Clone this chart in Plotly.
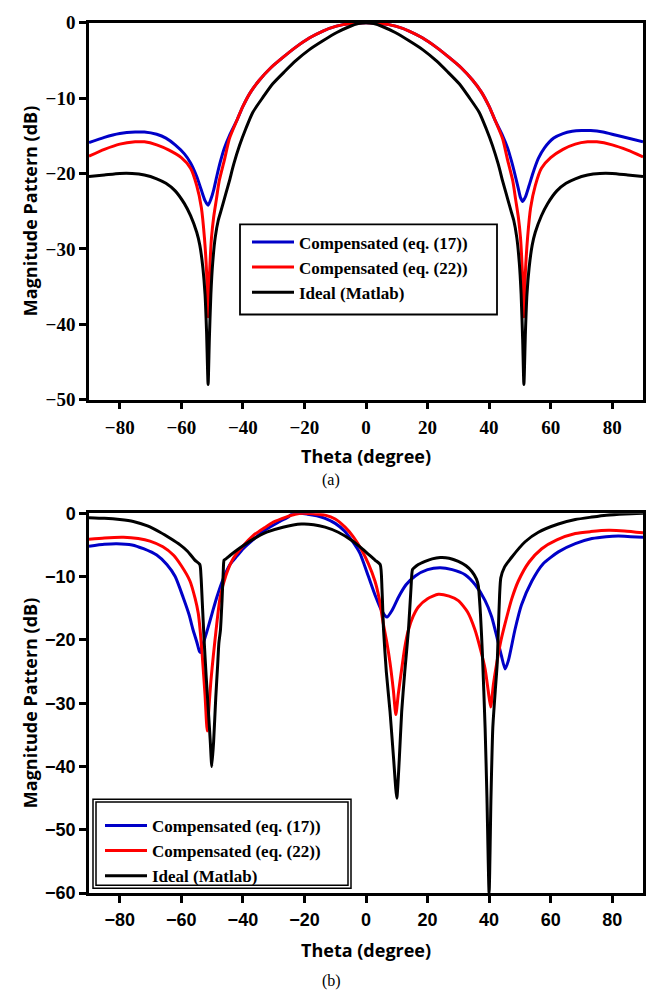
import plotly.graph_objects as go

# ---------------- (a) data ----------------
th_a_blue = [-90, -85, -80, -75, -72, -68, -65, -62, -59, -57, -55, -53.5, -52.3, -51.3, -50.4, -49.5, -48.5, -47.3,
             -46, -44.4, -42, -40, -37.5, -34.6, -31, -27, -23, -18.3, -14, -9.6, -5, 0,
             5, 9.6, 14, 18.3, 23, 27, 31, 34.6, 37.5, 40, 42, 44.4, 46, 47.3, 48.5, 49.5, 50.2, 50.9,
             51.8, 53, 54.2, 56, 58, 61, 64, 67, 70, 73, 77, 81, 85, 90]
db_a_blue = [-15.9, -15.2, -14.7, -14.5, -14.5, -14.8, -15.3, -16.2, -17.4, -18.6, -20.4, -22.2, -23.6, -24.2, -23.4,
             -22.2, -20.4, -18.4, -16.6, -15.0, -13.0, -11.1, -9.2, -7.6, -6.0, -4.6, -3.3, -2.0, -1.1, -0.45, -0.1, 0,
             -0.1, -0.45, -1.1, -2.0, -3.3, -4.6, -6.0, -7.6, -9.2, -11.1, -13.0, -15.0, -16.6, -18.4, -20.3, -22.0,
             -23.2, -23.7, -23.1, -21.6, -20.0, -18.0, -16.6, -15.3, -14.7, -14.4, -14.3, -14.3, -14.5, -14.9,
             -15.3, -15.8]

th_a_red = [-90, -85, -80, -75, -72, -68, -64, -60, -57, -55, -53.5, -52.5, -51.8, -51.3, -50.8, -50.2, -49.5, -48.6,
            -47.7, -46, -44.4, -42, -40, -37.5, -34.6, -31, -27, -23, -18.3, -14, -9.6, -5, 0,
            5, 9.6, 14, 18.3, 23, 27, 31, 34.6, 37.5, 40, 42, 44.4, 46, 47.7, 48.6, 49.5, 50.2, 50.8, 51.3,
            51.8, 52.5, 53.5, 55, 57, 60, 64, 68, 72, 75, 80, 85, 90]
db_a_red = [-17.7, -16.8, -16.1, -15.8, -15.8, -16.2, -16.9, -17.9, -19.3, -21.6, -24.5, -28.5, -33.0, -39.0, -33.0,
            -28.5, -25.8, -23.4, -21.0, -18.2, -15.4, -13.0, -11.1, -9.2, -7.6, -6.0, -4.6, -3.3, -2.0, -1.1, -0.45,
            -0.1, 0,
            -0.1, -0.45, -1.1, -2.0, -3.3, -4.6, -6.0, -7.6, -9.2, -11.1, -13.0, -15.4, -18.2, -21.0, -23.4, -25.8,
            -28.5, -33.0, -39.0, -33.0, -28.5, -24.5, -21.6, -19.3, -17.9, -16.8, -16.1, -15.8, -15.8, -16.2,
            -16.9, -17.8]

th_a_black = [-90, -85, -80, -76, -72, -68, -65, -62, -59, -57, -55, -54, -53, -52.3, -51.8, -51.3, -50.9, -50.4,
              -49.8, -49, -48, -47, -45.5, -44.4, -43, -41.1, -39, -36.8, -33.5, -30.3, -26.5, -22.7, -18.5, -14,
              -9.5, -5.3, -2.5, 0,
              2.5, 5.3, 9.5, 14, 18.5, 22.7, 26.5, 30.3, 33.5, 36.8, 39, 41.1, 43, 44.4, 45.5, 47, 48, 49, 49.8,
              50.4, 50.9, 51.3, 51.8, 52.3, 53, 54, 55, 57, 59, 62, 65, 68, 72, 76, 80, 85, 90]
db_a_black = [-20.4, -20.2, -20.0, -20.0, -20.2, -20.7, -21.3, -22.3, -24.0, -25.6, -27.8, -29.5, -32.5, -36.0, -41.0,
              -48.0, -42.0, -36.0, -31.8, -28.5, -26.2, -24.8, -22.6, -21.0, -18.8, -16.3, -14.0, -11.9, -9.9, -8.1,
              -6.5, -5.0, -3.6, -2.4, -1.3, -0.5, -0.12, 0,
              -0.12, -0.5, -1.3, -2.4, -3.6, -5.0, -6.5, -8.1, -9.9, -11.9, -14.0, -16.3, -18.8, -21.0, -22.6,
              -24.8, -26.2, -28.5, -31.8, -36.0, -42.0, -48.0, -41.0, -36.0, -32.5, -29.5, -27.8, -25.6, -24.0,
              -22.3, -21.3, -20.7, -20.2, -20.0, -20.0, -20.2, -20.4]

# ---------------- (b) data ----------------
th_b_blue = [-90, -85, -81, -76, -72.3, -68, -64.7, -62, -59.4, -57.5, -56.2, -55, -54.2, -53.9, -53.3, -51.7, -50,
             -48.5, -46.5, -44.2, -42, -39.9, -36, -32.3, -28, -25, -23.7, -19, -16, -13.3, -10, -7, -4.6, -2, 0.8,
             3, 5, 6.8, 8.5, 10.5, 13, 16, 20, 24.1, 28, 32.2, 35.5, 38.7, 40.8, 42.5, 44, 45.2, 46.3, 48.4,
             50.5, 53.9, 57.5, 62.5, 68, 73.4, 78, 82, 86, 90]
db_b_blue = [-5.2, -4.9, -4.8, -5.0, -5.6, -6.6, -8.1, -10.0, -13.3, -16.0, -18.4, -20.3, -21.7, -22.0, -21.2, -18.7,
             -15.8, -13.3, -10.5, -8.1, -6.8, -5.6, -3.9, -2.5, -1.3, -0.5, 0, -0.15, -0.4, -0.8, -1.6, -2.8, -4.3,
             -6.3, -10.0, -13.0, -15.3, -16.4, -15.3, -13.3, -11.3, -9.9, -8.9, -8.6, -8.9, -9.7, -11.3, -13.8,
             -16.3, -19.5, -22.5, -24.6, -23.2, -18.4, -14.5, -10.7, -8.0, -6.1, -4.8, -4.0, -3.7, -3.6, -3.7, -3.8]

th_b_red = [-90, -85, -78.8, -74, -70.2, -66, -62.6, -60, -57.2, -55.5, -54.5, -53.9, -53.2, -52.3, -51.6, -51.0,
            -50.4, -49.6, -48.5, -47.4, -45.5, -43.1, -40, -36.6, -33, -30.1, -26, -23, -20.4, -17, -13.3, -10,
            -6.8, -4, -1.4, 0.8, 2.9, 4.3, 5.6, 6.8, 7.8, 8.9, 9.7, 10.5, 11.6, 12.6, 13.8, 15.3, 17, 20, 23.5, 27,
            30, 33, 35.4, 37.2, 38.7, 39.7, 40.5, 41.4, 42.5, 43.8, 45.2, 47.3, 49.5, 53, 57.1, 62, 68, 73, 78.8,
            84, 90]
db_b_red = [-4.1, -3.9, -3.8, -4.0, -4.4, -5.3, -6.6, -8.3, -10.7, -13.5, -15.8, -18.4, -22.5, -28.7, -34.4, -30.5,
            -26.5, -22.5, -17.5, -13.3, -9.8, -7.1, -5.2, -3.5, -2.3, -1.4, -0.6, -0.15, 0, -0.1, -0.3, -0.9,
            -2.2, -3.8, -5.8, -8.0, -10.7, -13.5, -17.4, -20.5, -23.6, -28.0, -31.8, -28.5, -24.6, -21.2, -18.4,
            -16.3, -14.8, -13.5, -12.8, -13.1, -13.8, -15.6, -18.4, -21.5, -24.6, -28.0, -30.6, -27.0, -23.6,
            -20.2, -17.4, -13.6, -10.7, -7.7, -5.6, -4.2, -3.2, -2.9, -2.7, -2.8, -3.1]

th_b_black = [-90, -85, -80, -75.6, -71, -66.9, -63.5, -60.4, -58, -55.6, -54, -53.6, -53.2, -52.6, -51.9, -51.2,
              -50.6, -50.1, -49.5, -48.8, -48.2, -47.8, -47.3, -46.8, -46.4, -46.1, -45.5, -44, -41, -37, -32.3,
              -27, -21, -17, -13.3, -9, -4.6, -1, 2.9, 4.6, 5.2, 5.7, 6.6, 7.8, 9, 10, 10.8, 11.6, 12.6, 13.8,
              14.6, 15.1, 15.7, 17, 19.2, 21.5, 24.1, 27, 30, 32.5, 34.4, 35.9, 36.5, 37.2, 37.8, 38.7, 39.3,
              40, 40.6, 41.2, 42, 42.6, 43, 43.4, 43.8, 45, 47.4, 51.7, 56, 62.5, 68, 73.4, 78, 84.2, 90]
db_b_black = [-0.7, -0.8, -1.0, -1.3, -2.0, -3.0, -4.0, -5.0, -6.0, -7.4, -8.1, -10.0, -14.0, -20.0, -26.0, -31.3,
              -36.0, -40.0, -36.0, -29.0, -24.0, -20.5, -18.5, -14.0, -9.5, -7.4, -7.2, -6.6, -5.5, -4.2, -3.0,
              -2.2, -1.7, -1.8, -2.2, -3.0, -4.3, -5.7, -7.4, -8.1, -12.0, -18.4, -25.0, -31.3, -39.0, -45.0,
              -39.0, -31.3, -25.0, -18.4, -12.0, -8.9, -8.6, -8.1, -7.6, -7.2, -7.0, -7.1, -7.6, -8.3, -9.2, -10.4,
              -11.5, -16.0, -22.0, -33.9, -45.0, -60.0, -45.0, -33.9, -28.0, -24.0, -18.4, -13.0, -10.2, -8.5,
              -6.9, -4.5, -3.0, -1.7, -1.0, -0.6, -0.3, -0.1, 0]

series_names = ["Compensated (eq. (17))", "Compensated (eq. (22))", "Ideal (Matlab)"]
series_colors = ["#0000c8", "#ff0000", "#000000"]

x_ticks = [-80, -60, -40, -20, 0, 20, 40, 60, 80]
y_ticks_a = [0, -10, -20, -30, -40, -50]
y_ticks_b = [0, -10, -20, -30, -40, -50, -60]

fig = go.Figure()

sets_a = [(th_a_blue, db_a_blue), (th_a_red, db_a_red), (th_a_black, db_a_black)]
sets_b = [(th_b_blue, db_b_blue), (th_b_red, db_b_red), (th_b_black, db_b_black)]

for (xs, ys), name, col in zip(sets_a, series_names, series_colors):
    fig.add_trace(go.Scatter(x=xs, y=ys, mode="lines", name=name, xaxis="x", yaxis="y",
                             line=dict(color=col, width=3, shape="spline", smoothing=0.6),
                             legend="legend"))
for (xs, ys), name, col in zip(sets_b, series_names, series_colors):
    fig.add_trace(go.Scatter(x=xs, y=ys, mode="lines", name=name, xaxis="x2", yaxis="y2",
                             line=dict(color=col, width=3, shape="spline", smoothing=0.6),
                             legend="legend2"))

W, H = 650, 1004
xdom = [89 / W, 643 / W]
ydom_a = [1 - 398 / H, 1 - 13 / H]
ydom_b = [1 - 902 / H, 1 - 514 / H]

serif_bold = dict(family="Liberation Serif", size=19, color="black", weight="bold")
sans_bold = dict(family="Liberation Sans", size=18, color="black", weight="bold")

axis_common = dict(showline=True, linecolor="black", linewidth=2.5, mirror=True, showgrid=False,
                   zeroline=False, ticks="outside", ticklen=7, tickwidth=2.5, tickcolor="black")

legend_font = dict(family="Liberation Serif", size=17, color="black", weight="bold")

fig.update_layout(
    width=W, height=H,
    margin=dict(l=0, r=0, t=0, b=0),
    paper_bgcolor="white", plot_bgcolor="white",
    xaxis=dict(domain=xdom, anchor="y", range=[-90, 90], tickvals=x_ticks, tickfont=serif_bold,
               ticklabelstandoff=2, **axis_common),
    yaxis=dict(domain=ydom_a, anchor="x", range=[-50, 0], tickvals=y_ticks_a, tickfont=serif_bold,
               **axis_common),
    xaxis2=dict(domain=xdom, anchor="y2", range=[-90, 90], tickvals=x_ticks, tickfont=sans_bold,
                ticklabelstandoff=2, **axis_common),
    yaxis2=dict(domain=ydom_b, anchor="x2", range=[-60, 0], tickvals=y_ticks_b, tickfont=sans_bold,
                **axis_common),
    legend=dict(x=247 / W, y=1 - 219 / H, xanchor="left", yanchor="top", bgcolor="rgba(0,0,0,0)",
                borderwidth=0, itemwidth=42, font=legend_font),
    legend2=dict(x=100 / W, y=1 - 815 / H, xanchor="left", yanchor="top", bgcolor="rgba(0,0,0,0)",
                 borderwidth=0, itemwidth=42, font=legend_font),
    showlegend=True,
)

# legend frames (single frame for (a), double frame for (b))
frames = [
    (240, 219, 497, 311, 1.8),
    (93, 806, 351, 897, 1.5),
    (96, 809, 348, 894, 1.5),
]
fig.update_layout(shapes=[
    dict(type="rect", xref="paper", yref="paper", x0=x0 / W, x1=x1 / W, y0=1 - y1 / H, y1=1 - y0 / H,
         line=dict(color="black", width=lw), fillcolor="rgba(0,0,0,0)", layer="above")
    for x0, y0, x1, y1, lw in frames
])

title_font = dict(family="Open Sans", size=18, color="black", weight="bold")
ann = []
for yc, xc_title in [((13 + 398) / 2, 456), ((514 + 902) / 2, 960)]:
    ann.append(dict(text="Magnitude Pattern (dB)", x=30 / W, y=1 - yc / H, xref="paper", yref="paper",
                    textangle=-90, showarrow=False, font=title_font, xanchor="center", yanchor="middle"))
    ann.append(dict(text="Theta (degree)", x=366 / W, y=1 - xc_title / H, xref="paper", yref="paper",
                    showarrow=False, font=title_font, xanchor="center", yanchor="middle"))
for txt, yc in [("(a)", 480), ("(b)", 992)]:
    ann.append(dict(text=txt, x=331 / W, y=1 - yc / H, xref="paper", yref="paper", showarrow=False,
                    font=dict(family="Liberation Serif", size=16, color="black"),
                    xanchor="center", yanchor="middle"))
fig.update_layout(annotations=ann)

fig.write_html("out.html")
